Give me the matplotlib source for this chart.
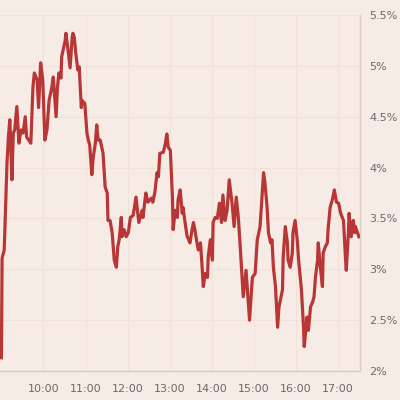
import matplotlib
matplotlib.use("Agg")
import matplotlib.pyplot as plt
from matplotlib.ticker import FuncFormatter

# minutes after 09:00 and the rate in percent
minutes = [0, 1, 4, 8, 10, 12, 15, 17, 19, 22, 25, 28, 31, 34, 36, 39, 42, 45, 47, 51,
           53, 56, 59, 62, 65, 68, 72, 74, 78, 80, 82, 85, 86, 91, 92, 95, 98, 101, 102, 104,
           106, 109, 111, 114, 115, 119, 122, 124, 126, 129, 131, 134, 136, 138, 141, 144, 145, 148, 151, 152,
           155, 158, 161, 164, 166, 168, 171, 172, 175, 178, 181, 184, 188, 192, 196, 201, 202, 206, 209, 214,
           216, 219, 222, 224, 226, 231, 234, 236, 238, 241, 244, 245, 248, 251, 252, 255, 258, 259, 262, 265,
           266, 269, 272, 274, 276, 279, 281, 284, 286, 288, 291, 294, 295, 298, 301, 302, 305, 308, 311, 314,
           316, 319, 322, 325, 329, 332, 335, 338, 341, 345, 349, 354, 358, 362, 365, 369, 374, 376, 379, 381,
           384, 386, 388, 391, 394, 396, 401, 402, 405, 408, 409, 412, 415, 416, 419, 422, 424, 428, 431, 432,
           436, 438, 441, 444, 446, 448, 451, 452, 455, 458, 459, 462, 465, 466, 469, 472, 475, 478, 481, 484,
           488, 491, 492, 495, 496, 499, 502, 504, 505, 508, 510]
rate = [2.13, 3.11, 3.19, 4.05, 4.30, 4.47, 3.88, 4.34, 4.37, 4.60, 4.24, 4.37, 4.34, 4.50, 4.30, 4.27, 4.24, 4.79, 4.93, 4.86,
        4.59, 5.03, 4.86, 4.27, 4.37, 4.66, 4.79, 4.89, 4.50, 4.79, 4.93, 4.88, 5.09, 5.25, 5.32, 5.16, 4.98, 5.28, 5.32, 5.28,
        5.13, 4.96, 4.99, 4.59, 4.66, 4.63, 4.34, 4.27, 4.22, 3.93, 4.10, 4.24, 4.42, 4.27, 4.27, 4.17, 4.14, 3.81, 3.75, 3.48,
        3.48, 3.36, 3.09, 3.02, 3.22, 3.29, 3.51, 3.32, 3.39, 3.32, 3.36, 3.51, 3.53, 3.71, 3.46, 3.58, 3.51, 3.75, 3.66, 3.70,
        3.66, 3.76, 3.95, 3.91, 4.14, 4.15, 4.24, 4.33, 4.20, 4.17, 3.71, 3.39, 3.58, 3.51, 3.68, 3.78, 3.55, 3.61, 3.46, 3.32,
        3.31, 3.26, 3.39, 3.46, 3.39, 3.26, 3.19, 3.26, 3.06, 2.83, 2.96, 2.92, 3.12, 3.29, 3.09, 3.46, 3.51, 3.50, 3.65, 3.46,
        3.73, 3.48, 3.58, 3.88, 3.65, 3.42, 3.71, 3.51, 3.19, 2.73, 2.99, 2.50, 2.92, 2.96, 3.29, 3.42, 3.95, 3.85, 3.61, 3.36,
        3.26, 3.29, 3.02, 2.83, 2.43, 2.63, 2.80, 3.12, 3.42, 3.26, 3.09, 3.02, 3.16, 3.36, 3.48, 3.29, 3.09, 2.80, 2.43, 2.24,
        2.53, 2.40, 2.63, 2.68, 2.73, 2.92, 3.09, 3.26, 3.02, 2.83, 3.16, 3.22, 3.26, 3.39, 3.61, 3.68, 3.78, 3.66, 3.65, 3.55,
        3.48, 3.09, 2.99, 3.36, 3.55, 3.32, 3.48, 3.36, 3.42, 3.36, 3.32]

tick_minutes = [60, 120, 180, 240, 300, 360, 420, 480]
tick_labels = ["10:00", "11:00", "12:00", "13:00", "14:00", "15:00", "16:00", "17:00"]
y_ticks = [2, 2.5, 3, 3.5, 4, 4.5, 5, 5.5]

bg = "#f6ebe5"
fig = plt.figure(figsize=(4, 4), dpi=100, facecolor=bg)
ax = fig.add_axes([0.0, 0.0725, 0.899, 0.89])
ax.set_facecolor(bg)

ax.plot(minutes, rate, color="#b93636", linewidth=2.3, zorder=3)

ax.set_xlim(-2, 511)
ax.set_ylim(2, 5.5)
ax.set_xticks(tick_minutes)
ax.set_xticklabels(tick_labels)
ax.set_yticks(y_ticks)
ax.yaxis.set_major_formatter(FuncFormatter(lambda v, p: "%g%%" % v))
ax.yaxis.tick_right()

ax.grid(True, color="#f0e2d9", linewidth=0.8, zorder=0)
ax.tick_params(axis="both", length=0, labelsize=8, labelcolor="#6b6b6b")
ax.tick_params(axis="x", pad=9)
ax.tick_params(axis="y", pad=7)
for lbl in ax.get_yticklabels():
    lbl.set_horizontalalignment("left")

for s in ["top", "left"]:
    ax.spines[s].set_visible(False)
for s in ["bottom", "right"]:
    ax.spines[s].set_color("#dacdc5")
    ax.spines[s].set_linewidth(1)

fig.savefig("out.png", dpi=100, facecolor=bg)
